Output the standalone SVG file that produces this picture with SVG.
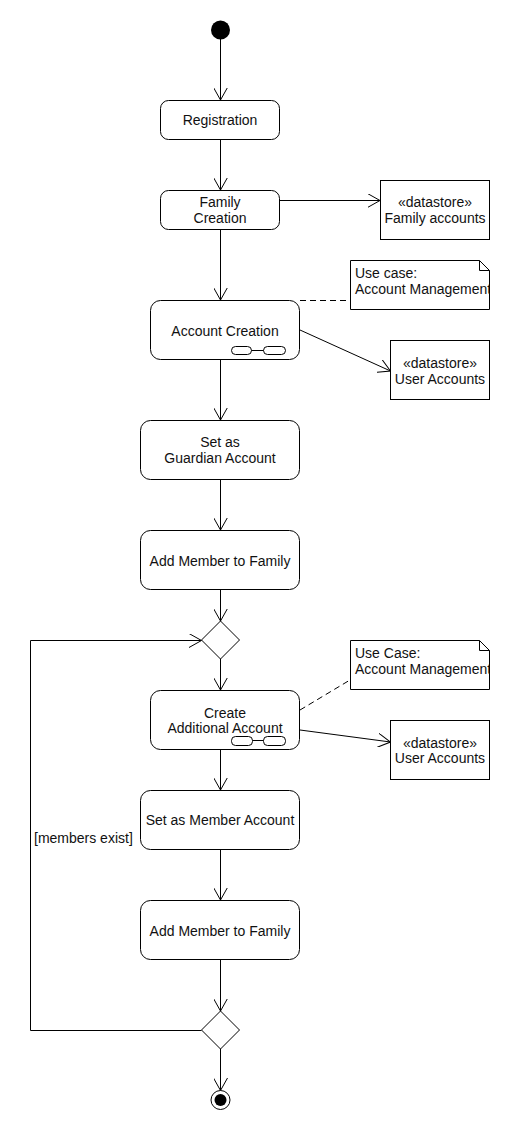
<svg xmlns="http://www.w3.org/2000/svg" width="510" height="1130" viewBox="0 0 510 1130">
<defs>
<style>
.n{fill:#fff;stroke:#000;stroke-width:1}
.t{font-family:"Liberation Sans",Arial,sans-serif;font-size:14px;fill:#111;text-anchor:middle}
.tl{font-family:"Liberation Sans",Arial,sans-serif;font-size:14px;fill:#111}
.c{fill:none;stroke:#000;stroke-width:1}
.d{fill:none;stroke:#000;stroke-width:1;stroke-dasharray:6,4}
</style>
<marker id="a" viewBox="0 0 13 14" refX="12.5" refY="7" markerWidth="13" markerHeight="14" markerUnits="userSpaceOnUse" orient="auto">
<path d="M0,0 L12.5,7 L0,14" fill="none" stroke="#000" stroke-width="1"/>
</marker>
<clipPath id="cn1"><rect x="350" y="260" width="139.5" height="50"/></clipPath>
<clipPath id="cn2"><rect x="350" y="640" width="139.5" height="50"/></clipPath>
</defs>
<rect width="510" height="1130" fill="#fff"/>

<g id="connectors">
<path class="c" d="M220.5,39 V100" marker-end="url(#a)"/>
<path class="c" d="M220.5,139 V190" marker-end="url(#a)"/>
<path class="c" d="M279.5,200.5 H380" marker-end="url(#a)"/>
<path class="c" d="M220.5,230 V300" marker-end="url(#a)"/>
<path class="d" d="M300,300.5 H350"/>
<path class="c" d="M300,330 L390.5,371" marker-end="url(#a)"/>
<path class="c" d="M220.5,360 V420" marker-end="url(#a)"/>
<path class="c" d="M220.5,480 V530" marker-end="url(#a)"/>
<path class="c" d="M220.5,590 V621" marker-end="url(#a)"/>
<path class="c" d="M220.5,659 V690" marker-end="url(#a)"/>
<path class="d" d="M300,710 L350,680"/>
<path class="c" d="M300,730 L390.5,742" marker-end="url(#a)"/>
<path class="c" d="M220.5,750 V790" marker-end="url(#a)"/>
<path class="c" d="M220.5,850 V900" marker-end="url(#a)"/>
<path class="c" d="M220.5,960 V1011" marker-end="url(#a)"/>
<path class="c" d="M220.5,1049 V1090.5" marker-end="url(#a)"/>
<path class="c" d="M201.5,1030.5 H30.5 V640.5 H201.5" marker-end="url(#a)"/>
<text class="tl" x="34" y="843">[members exist]</text>
</g>

<g id="start"><circle cx="220.5" cy="30" r="9.5" fill="#000"/></g>

<g id="registration">
<rect class="n" x="160.5" y="100.5" width="119" height="39" rx="8"/>
<text class="t" x="220" y="125">Registration</text>
</g>

<g id="family-creation">
<rect class="n" x="160.5" y="190.5" width="119" height="39" rx="8"/>
<text class="t" x="220" y="207">Family</text>
<text class="t" x="220" y="223">Creation</text>
</g>

<g id="family-accounts">
<rect class="n" x="380.5" y="180.5" width="109" height="59"/>
<text class="t" x="435" y="207">«datastore»</text>
<text class="t" x="435" y="223">Family accounts</text>
</g>

<g id="account-creation">
<rect class="n" x="150.5" y="300.5" width="149" height="59" rx="10"/>
<text class="t" x="225" y="335.5">Account Creation</text>
<rect class="n" x="231.5" y="346.5" width="20" height="8" rx="4"/>
<rect class="n" x="263.5" y="346.5" width="22" height="8" rx="4"/>
<path class="c" d="M251.5,350.5 H263.5"/>
</g>

<g id="note1">
<path class="n" d="M350.5,260.5 H479.5 L489.5,270.5 V309.5 H350.5 Z"/>
<path class="c" d="M479.5,260.5 V270.5 H489.5"/>
<g clip-path="url(#cn1)">
<text class="tl" x="355" y="278">Use case:</text>
<text class="tl" x="355" y="294">Account Management</text>
</g>
</g>

<g id="user-accounts1">
<rect class="n" x="390.5" y="340.5" width="99" height="59"/>
<text class="t" x="440" y="368">«datastore»</text>
<text class="t" x="440" y="384">User Accounts</text>
</g>

<g id="set-guardian">
<rect class="n" x="140.5" y="420.5" width="159" height="59" rx="10"/>
<text class="t" x="220" y="447">Set as</text>
<text class="t" x="220" y="463">Guardian Account</text>
</g>

<g id="add-member1">
<rect class="n" x="140.5" y="530.5" width="159" height="59" rx="10"/>
<text class="t" x="220" y="565.5">Add Member to Family</text>
</g>

<g id="merge"><path class="n" d="M220.5,621 L239.5,640 L220.5,659 L201.5,640 Z"/></g>

<g id="create-additional">
<rect class="n" x="150.5" y="690.5" width="149" height="59" rx="10"/>
<text class="t" x="225" y="717.5">Create</text>
<text class="t" x="225" y="733">Additional Account</text>
<rect class="n" x="231.5" y="736.5" width="21" height="9" rx="4"/>
<rect class="n" x="263.5" y="736.5" width="22" height="9" rx="4"/>
<path class="c" d="M252.5,740.5 H263.5"/>
</g>

<g id="note2">
<path class="n" d="M350.5,640.5 H479.5 L489.5,650.5 V689.5 H350.5 Z"/>
<path class="c" d="M479.5,640.5 V650.5 H489.5"/>
<g clip-path="url(#cn2)">
<text class="tl" x="355" y="658">Use Case:</text>
<text class="tl" x="355" y="674">Account Management</text>
</g>
</g>

<g id="user-accounts2">
<rect class="n" x="390.5" y="720.5" width="99" height="59"/>
<text class="t" x="440" y="748">«datastore»</text>
<text class="t" x="440" y="763">User Accounts</text>
</g>

<g id="set-member">
<rect class="n" x="140.5" y="790.5" width="159" height="59" rx="10"/>
<text class="t" x="220" y="825">Set as Member Account</text>
</g>

<g id="add-member2">
<rect class="n" x="140.5" y="900.5" width="159" height="59" rx="10"/>
<text class="t" x="220" y="935.5">Add Member to Family</text>
</g>

<g id="decision"><path class="n" d="M220.5,1011 L239.5,1030 L220.5,1049 L201.5,1030 Z"/></g>

<g id="end">
<circle cx="220.5" cy="1100" r="9.5" fill="#fff" stroke="#000"/>
<circle cx="220.5" cy="1100" r="6" fill="#000"/>
</g>
</svg>
